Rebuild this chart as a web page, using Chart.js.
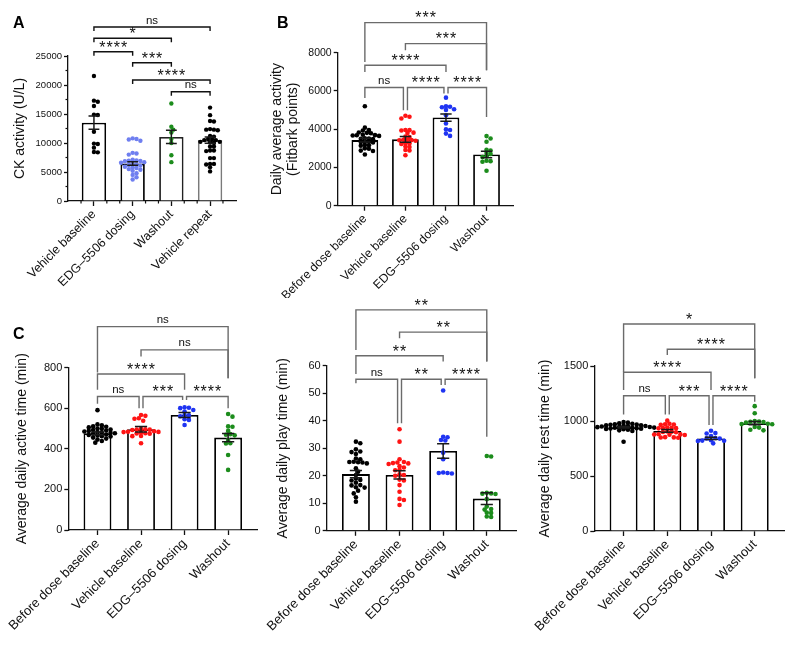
<!DOCTYPE html>
<html>
<head>
<meta charset="utf-8">
<script src="https://cdn.jsdelivr.net/npm/chart.js@4.4.1/dist/chart.umd.min.js"></script>
<style>
  html, body { margin: 0; padding: 0; background: #fff; }
  body { width: 797px; height: 646px; position: relative; overflow: hidden; }
  .panel { position: absolute; }
</style>
</head>
<body>
<div class="panel" style="left:0;top:0;width:258px;height:300px"><canvas id="chartA"></canvas></div>
<div class="panel" style="left:258px;top:0;width:272px;height:298px"><canvas id="chartB"></canvas></div>
<div class="panel" style="left:0;top:298px;width:265px;height:348px"><canvas id="chartC"></canvas></div>
<div class="panel" style="left:265px;top:298px;width:265px;height:348px"><canvas id="chartD"></canvas></div>
<div class="panel" style="left:530px;top:298px;width:267px;height:348px"><canvas id="chartE"></canvas></div>
<script>
// ---- data ----
const ckCats = ['Vehicle baseline', 'EDG–5506 dosing', 'Washout', 'Vehicle repeat'];
const fitCats = ['Before dose baseline', 'Vehicle baseline', 'EDG–5506 dosing', 'Washout'];

// A: CK activity (U/L)
const ckTicks = [0, 5000, 10000, 15000, 20000, 25000];
const ckMinorY = [2500, 7500, 12500, 17500, 22500];
const ckMinorX = [-1 / 3, 1 / 3, 2 / 3, 4 / 3, 5 / 3, 7 / 3, 8 / 3, 10 / 3];
const ckMean = [13500, 6450, 11050, 10500];
const ckSem = [1150, 300, 1150, 550];
const ckVehicle = [21550, 17300, 17100, 16380, 14900, 14830, 11950, 9900, 9830, 9200, 8450, 8390];
const ckDosing = [10800, 10700, 10600, 10400, 8300, 8200, 8000, 7100, 7000, 6950, 6900, 6850, 6700, 6600,
  6400, 6300, 6200, 6100, 5900, 5800, 5700, 5500, 5400, 5200, 4800, 4500, 4100, 3700];
const ckWashout = [16800, 12800, 12300, 11800, 10700, 10000, 7900, 6700];
const ckRepeat = [16100, 14800, 13800, 13700, 12400, 12300, 12300, 12200, 11200, 11100, 10700, 10600, 10500,
  10500, 10200, 10200, 10100, 10000, 9400, 9400, 8700, 8700, 8600, 7400, 7400, 6400, 6400, 6300, 5800, 5100];
// [from, to, level, left arm end, right arm end, label]
const ckSig = [
  [0, 3, 30000, 29300, 29300, 'ns'],
  [0, 2, 28050, 27350, 27350, '*'],
  [0, 1, 25740, 25040, 25040, '****'],
  [1, 2, 23840, 23140, 23140, '***'],
  [1, 3, 20860, 20160, 20160, '****'],
  [2, 3, 18840, 18140, 18140, 'ns']
];

// B: daily average activity (Fitbark points)
const actTicks = [0, 2000, 4000, 6000, 8000];
const actMean = [3430, 3470, 4610, 2680];
const actSem = [100, 150, 190, 170];
const actBefore = [5200, 4080, 3960, 3930, 3830, 3810, 3790, 3710, 3690, 3680, 3670, 3650, 3530, 3510,
  3500, 3480, 3360, 3340, 3330, 3310, 3180, 3160, 3140, 3000, 2980, 2880, 2860, 2680];
const actVehicle = [4700, 4650, 4560, 3960, 3950, 3930, 3820, 3800, 3610, 3590, 3450, 3440, 3430, 3420,
  3400, 3260, 3250, 3230, 3090, 3070, 2910, 2890, 2640];
const actDosing = [5650, 5200, 5170, 5150, 5040, 5010, 4730, 4300, 3990, 3960, 3770, 3650];
const actWashout = [3640, 3510, 3340, 2920, 2880, 2750, 2700, 2580, 2540, 2350, 2330, 2300, 1830];
const actSig = [
  [0, 3, 9570, 7514, 7080, '***'],
  [1, 3, 8474, 8124, 7080, '***'],
  [0, 2, 7342, 6992, 6992, '****'],
  [0, 1, 6178, 5635, 4993, 'ns'],
  [1, 2, 6178, 4993, 5865, '****'],
  [2, 3, 6178, 5865, 4644, '****']
];

// C: average daily active time (min)
const activeTicks = [0, 200, 400, 600, 800];
const activeMean = [476, 496, 566, 455];
const activeSem = [7, 14, 12, 20];
const activeBefore = [590, 520, 515, 510, 508, 505, 500, 498, 495, 492, 490, 488, 485, 482, 480, 478, 476,
  474, 470, 468, 465, 462, 460, 455, 450, 445, 438, 430];
const activeVehicle = [566, 562, 550, 548, 538, 498, 496, 495, 494, 492, 486, 484, 483, 482, 480, 476, 475,
  474, 463, 462, 427];
const activeDosing = [604, 602, 600, 591, 583, 566, 565, 560, 545, 542, 517];
const activeWashout = [571, 558, 510, 508, 488, 472, 469, 466, 443, 427, 426, 369, 296];
const activeSig = [
  [0, 3, 1001, 775, 747, 'ns'],
  [1, 3, 887, 854, 747, 'ns'],
  [0, 2, 768, 690, 690, '****'],
  [0, 1, 657, 621, 600, 'ns'],
  [1, 2, 657, 600, 640, '***'],
  [2, 3, 657, 640, 600, '****']
];

// D: average daily play time (min)
const playTicks = [0, 10, 20, 30, 40, 50, 60];
const playMean = [20.6, 20.3, 29.0, 11.7];
const playSem = [1.3, 1.5, 2.6, 2.1];
const playBefore = [32.4, 31.8, 29.6, 28.8, 28.6, 27.9, 26.3, 26.0, 25.1, 25.0, 24.9, 24.8, 24.5, 22.7,
  21.5, 20.3, 19.0, 18.5, 18.3, 17.5, 16.6, 16.5, 15.8, 15.7, 14.6, 13.6, 12.2, 10.6];
const playVehicle = [36.9, 32.4, 26.0, 25.0, 24.8, 24.6, 24.5, 24.3, 23.5, 23.0, 22.2, 22.0, 20.5, 20.3,
  20.0, 18.6, 18.3, 16.6, 14.2, 11.6, 11.2, 9.4];
const playDosing = [51, 34.2, 34.0, 33.0, 32.8, 28.4, 26.0, 21.2, 21.0, 21.0, 20.8];
const playWashout = [27.2, 27.0, 13.8, 13.6, 13.5, 13.4, 11.5, 8.8, 7.9, 7.7, 6.6, 6.5, 5.2, 5.0];
const playSig = [
  [0, 3, 80.3, 65.7, 61.5, '**'],
  [1, 3, 72.2, 70, 61.5, '**'],
  [0, 2, 63.6, 57, 61.5, '**'],
  [0, 1, 55.1, 53.6, 39.1, 'ns'],
  [1, 2, 55.1, 39.1, 53, '**'],
  [2, 3, 55.1, 53, 34.2, '****']
];

// E: average daily rest time (min)
const restTicks = [0, 500, 1000, 1500];
const restMean = [943, 910, 842, 980];
const restSem = [7, 12, 10, 15];
const restBefore = [990, 985, 980, 975, 970, 968, 965, 962, 960, 958, 955, 953, 950, 948, 946, 944, 942,
  940, 938, 935, 932, 930, 928, 925, 920, 915, 910, 812];
const restVehicle = [1003, 975, 970, 968, 965, 940, 938, 937, 935, 933, 905, 903, 900, 898, 880, 878, 877,
  875, 873, 853, 851, 850, 848];
const restDosing = [912, 890, 886, 864, 845, 842, 840, 825, 822, 820, 818, 797];
const restWashout = [1135, 1070, 1000, 995, 993, 990, 985, 975, 972, 970, 945, 940, 920, 915];
const restSig = [
  [0, 3, 1882, 1443, 1388, '*'],
  [1, 3, 1652, 1600, 1388, '****'],
  [0, 2, 1443, 1282, 1282, '****'],
  [0, 1, 1230, 1060, 1060, 'ns'],
  [1, 2, 1230, 1060, 964, '***'],
  [2, 3, 1230, 964, 1175, '****']
];

// ---- drawing ----
const FONT = "'Liberation Sans', Arial, Helvetica, sans-serif";
Chart.defaults.font.family = FONT;
Chart.defaults.color = '#111';

const dotColors = ['#000000', '#ff1414', '#1f34f2', '#1c8c1c'];

// simple beeswarm: offset each dot sideways until it no longer overlaps one already placed
function swarm(vals, yTol, step) {
  const placed = [];
  vals.slice().sort((a, b) => b - a).forEach(v => {
    for (let k = 0; k < 200; k++) {
      const dx = (k % 2 ? 1 : -1) * Math.ceil(k / 2) * step / 2;
      const hit = placed.some(q => ((q.dx - dx) / step) ** 2 + ((q.v - v) / yTol) ** 2 < 1);
      if (!hit) { placed.push({ v, dx }); break; }
    }
  });
  return placed;
}

function panel(id, p) {
  const pts = [];
  p.groups.forEach((vals, i) => {
    swarm(vals, p.ymax * 0.021, 0.1).forEach(q => pts.push({ x: i + q.dx, y: q.v, c: p.colors[i] }));
  });
  const n = p.mean.length;

  const marks = {
    id: 'marks' + id,
    afterDatasetsDraw(chart) {
      const { ctx } = chart;
      const xs = chart.scales.x, ys = chart.scales.y;
      ctx.save();
      // mean ± SEM
      ctx.strokeStyle = '#1a1a1a';
      ctx.lineWidth = 1.5;
      p.mean.forEach((m, i) => {
        const cx = xs.getPixelForValue(i);
        const hw = xs.getPixelForValue(i + 0.14) - cx;
        const yt = ys.getPixelForValue(m + p.sem[i]);
        const yb = ys.getPixelForValue(m - p.sem[i]);
        ctx.beginPath();
        ctx.moveTo(cx, yb); ctx.lineTo(cx, yt);
        ctx.moveTo(cx - hw, yt); ctx.lineTo(cx + hw, yt);
        ctx.moveTo(cx - hw, yb); ctx.lineTo(cx + hw, yb);
        ctx.stroke();
      });
      // minor ticks (panel A only)
      ctx.strokeStyle = '#111';
      ctx.lineWidth = 1.2;
      (p.minorY || []).forEach(v => {
        const yy = ys.getPixelForValue(v);
        ctx.beginPath(); ctx.moveTo(xs.left - 2.5, yy); ctx.lineTo(xs.left, yy); ctx.stroke();
      });
      (p.minorX || []).forEach(v => {
        const xx = xs.getPixelForValue(v);
        ctx.beginPath(); ctx.moveTo(xx, ys.bottom); ctx.lineTo(xx, ys.bottom + 2.5); ctx.stroke();
      });
      // significance brackets
      ctx.strokeStyle = p.sigColor;
      ctx.lineWidth = 1.4;
      ctx.fillStyle = '#111';
      ctx.textAlign = 'center';
      ctx.textBaseline = 'alphabetic';
      p.sig.forEach(([a, b, lvl, le, re, label]) => {
        const adj = b - a === 1;
        const xa = xs.getPixelForValue(a + (adj && a > 0 ? p.inset : 0));
        const xb = xs.getPixelForValue(b - (adj && b < n - 1 ? p.inset : 0));
        const yl = ys.getPixelForValue(lvl);
        ctx.beginPath();
        ctx.moveTo(xa, ys.getPixelForValue(le));
        ctx.lineTo(xa, yl);
        ctx.lineTo(xb, yl);
        ctx.lineTo(xb, ys.getPixelForValue(re));
        ctx.stroke();
        const star = label.includes('*');
        ctx.font = (star ? '16px ' : '11.5px ') + FONT;
        ctx.letterSpacing = star ? '1px' : '0px';
        ctx.fillText(label, (xa + xb) / 2 + (star ? 0.5 : 0), yl + (star ? 0.8 : -3.5));
      });
      ctx.restore();
    },
    afterDraw(chart) {
      if (!p.letter) return;
      const { ctx } = chart;
      ctx.save();
      ctx.font = 'bold 16px ' + FONT;
      ctx.fillStyle = '#000';
      ctx.textAlign = 'left';
      ctx.textBaseline = 'alphabetic';
      ctx.fillText(p.letter[0], p.letter[1], p.letter[2]);
      ctx.restore();
    }
  };

  return new Chart(document.getElementById(id), {
    type: 'bar',
    data: {
      datasets: [
        {
          type: 'scatter', data: pts, order: 0,
          pointRadius: p.r, pointHoverRadius: p.r, pointBorderWidth: 0,
          pointBackgroundColor: pts.map(q => q.c)
        },
        {
          type: 'bar', data: p.mean.map((m, i) => ({ x: i, y: m })), order: 1,
          backgroundColor: '#ffffff', borderColor: p.barColors, borderWidth: 1.8,
          barPercentage: p.barPct, categoryPercentage: 1
        }
      ]
    },
    options: {
      responsive: true, maintainAspectRatio: false, animation: false, devicePixelRatio: 1,
      layout: { padding: p.pad },
      plugins: { legend: { display: false }, tooltip: { enabled: false } },
      scales: {
        x: {
          type: 'linear', min: -0.67, max: 3.67, offset: false,
          afterBuildTicks: s => { s.ticks = p.cats.map((c, i) => ({ value: i })); },
          afterFit: s => { s.height = p.xh; s.paddingLeft = 0; s.paddingRight = 0; },
          ticks: {
            autoSkip: false, minRotation: 45, maxRotation: 45, padding: 1, color: '#111',
            font: { size: p.labelSize }, callback: v => p.cats[v]
          },
          grid: { offset: false, drawOnChartArea: false, tickLength: 5, tickWidth: 1.3, tickColor: '#111' },
          border: { color: '#111', width: 1.3 }
        },
        y: {
          min: 0, max: p.ymax,
          afterBuildTicks: s => { s.ticks = p.yTicks.map(v => ({ value: v })); },
          afterFit: s => { s.width = p.yw; },
          ticks: { padding: 2, color: '#111', font: { size: p.tickSize }, callback: v => String(v) },
          grid: { drawOnChartArea: false, tickLength: 4, tickWidth: 1.3, tickColor: '#111' },
          border: { color: '#111', width: 1.3 },
          title: { display: true, text: p.title, color: '#111', padding: 0, font: { size: 14 } }
        }
      }
    },
    plugins: [marks]
  });
}

panel('chartA', {
  cats: ckCats, groups: [ckVehicle, ckDosing, ckWashout, ckRepeat],
  mean: ckMean, sem: ckSem, sig: ckSig, yTicks: ckTicks, minorY: ckMinorY, minorX: ckMinorX, ymax: 25000,
  colors: ['#000000', '#6f7ff0', '#1c8c1c', '#000000'],
  barColors: ['#000', '#000', '#222', '#7a7a7a'],
  title: 'CK activity (U/L)', tickSize: 9.5, labelSize: 12.5, r: 2.2, barPct: 0.63, inset: 0, sigColor: '#111',
  pad: { left: 11.6, right: 22, top: 56, bottom: 0 }, yw: 56.4, xh: 99, letter: ['A', 13, 28]
});

panel('chartB', {
  cats: fitCats, groups: [actBefore, actVehicle, actDosing, actWashout],
  mean: actMean, sem: actSem, sig: actSig, yTicks: actTicks, ymax: 8000,
  colors: dotColors, barColors: '#000',
  title: ['Daily average activity', '(Fitbark points)'], tickSize: 10.5, labelSize: 12.2, r: 2.3, barPct: 0.66,
  inset: 0.05, sigColor: '#6b6b6b',
  pad: { left: 10.3, right: 16.3, top: 52.7, bottom: 0 }, yw: 69.4, xh: 92.3, letter: ['B', 19, 27.5]
});

panel('chartC', {
  cats: fitCats, groups: [activeBefore, activeVehicle, activeDosing, activeWashout],
  mean: activeMean, sem: activeSem, sig: activeSig, yTicks: activeTicks, ymax: 800,
  colors: dotColors, barColors: '#000',
  title: 'Average daily active time (min)', tickSize: 11, labelSize: 13, r: 2.3, barPct: 0.64,
  inset: 0.045, sigColor: '#6b6b6b',
  pad: { left: 13.3, right: 7.7, top: 69.5, bottom: 0 }, yw: 55, xh: 116, letter: ['C', 13, 40.5]
});

panel('chartD', {
  cats: fitCats, groups: [playBefore, playVehicle, playDosing, playWashout],
  mean: playMean, sem: playSem, sig: playSig, yTicks: playTicks, ymax: 60,
  colors: dotColors, barColors: '#000',
  title: 'Average daily play time (min)', tickSize: 11, labelSize: 13, r: 2.3, barPct: 0.64,
  inset: 0.045, sigColor: '#6b6b6b',
  pad: { left: 9.9, right: 14, top: 67.7, bottom: 0 }, yw: 51.8, xh: 115.2
});

panel('chartE', {
  cats: fitCats, groups: [restBefore, restVehicle, restDosing, restWashout],
  mean: restMean, sem: restSem, sig: restSig, yTicks: restTicks, ymax: 1500,
  colors: dotColors, barColors: '#000',
  title: 'Average daily rest time (min)', tickSize: 11, labelSize: 13, r: 2.3, barPct: 0.64,
  inset: 0.045, sigColor: '#6b6b6b',
  pad: { left: 6.6, right: 13, top: 68, bottom: 0 }, yw: 57.7, xh: 115
});
</script>
</body>
</html>
